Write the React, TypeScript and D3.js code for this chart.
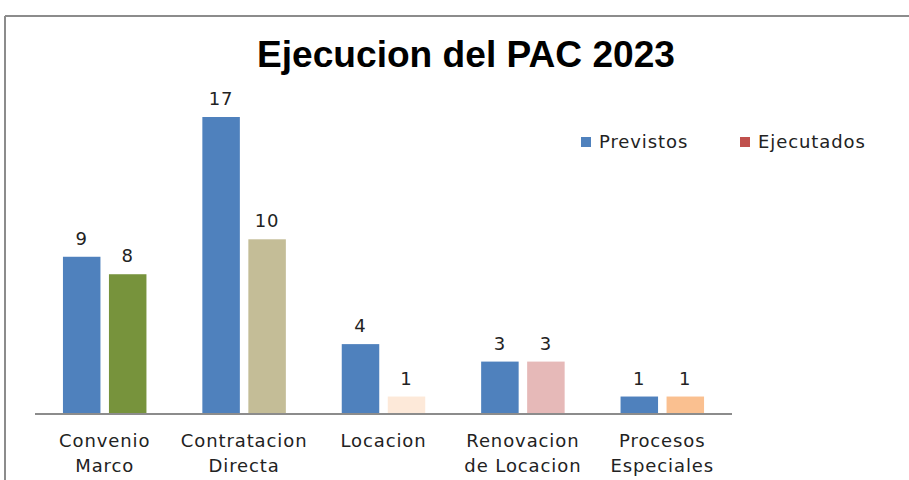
import React from "react";
import * as d3 from "d3";

const categories = [
  ["Convenio", "Marco"],
  ["Contratacion", "Directa"],
  ["Locacion"],
  ["Renovacion", "de Locacion"],
  ["Procesos", "Especiales"],
];
const previstos = [9, 17, 4, 3, 1];
const ejecutados = [8, 10, 1, 3, 1];
const previstosColor = "#4F81BD";
const ejecutadosColors = ["#77933C", "#C4BD97", "#FDE9D9", "#E6B9B8", "#FAC090"];
const legendEjecutadosColor = "#C0504D";
const title = "Ejecucion del PAC 2023";

const W = 909;
const H = 480;
const font = "'DejaVu Sans', Verdana, sans-serif";
const fs = 18;
const ls = 0.9;

export default function App() {
  const x = d3
    .scaleBand<number>()
    .domain(d3.range(categories.length))
    .range([35, 732]);
  const y = d3.scaleLinear().domain([0, 17]).range([414, 117]);
  const barW = 37.5;
  const gap = 8.5;

  const txt = {
    fontFamily: font,
    fontSize: fs,
    letterSpacing: ls,
    fill: "#222",
  } as const;

  return (
    <svg
      width={W}
      height={H}
      style={{ position: "absolute", left: 0, top: 0, background: "#fff" }}
    >
      <rect x={0} y={0} width={W} height={H} fill="#fff" />
      <line x1={5} y1={16} x2={W} y2={16} stroke="#8c8c8c" strokeWidth={2} />
      <line x1={5} y1={16} x2={5} y2={H} stroke="#8c8c8c" strokeWidth={2} />
      <text
        x={466}
        y={67}
        textAnchor="middle"
        fontFamily="'Liberation Sans', Arial, sans-serif"
        fontWeight="bold"
        fontSize={37}
        textLength={418}
        lengthAdjust="spacingAndGlyphs"
        fill="#000"
      >
        {title}
      </text>
      {categories.map((c, i) => {
        const cx = (x(i) as number) + x.bandwidth() / 2;
        const x1 = cx - gap / 2 - barW;
        const x2 = cx + gap / 2;
        return (
          <g key={i}>
            <rect
              x={x1}
              y={y(previstos[i])}
              width={barW}
              height={y(0) - y(previstos[i])}
              fill={previstosColor}
            />
            <rect
              x={x2}
              y={y(ejecutados[i])}
              width={barW}
              height={y(0) - y(ejecutados[i])}
              fill={ejecutadosColors[i]}
            />
            <text x={x1 + barW / 2} y={y(previstos[i]) - 12} textAnchor="middle" {...txt}>
              {previstos[i]}
            </text>
            <text x={x2 + barW / 2} y={y(ejecutados[i]) - 12} textAnchor="middle" {...txt}>
              {ejecutados[i]}
            </text>
            {c.map((line, j) => (
              <text key={j} x={cx} y={447 + j * 25} textAnchor="middle" {...txt}>
                {line}
              </text>
            ))}
          </g>
        );
      })}
      <line x1={35} y1={y(0)} x2={732} y2={y(0)} stroke="#8c8c8c" strokeWidth={2} />
      <rect x={581} y={137} width={10} height={10} fill={previstosColor} />
      <text x={599} y={148} {...txt}>
        Previstos
      </text>
      <rect x={740} y={137} width={10} height={10} fill={legendEjecutadosColor} />
      <text x={758} y={148} {...txt}>
        Ejecutados
      </text>
    </svg>
  );
}
